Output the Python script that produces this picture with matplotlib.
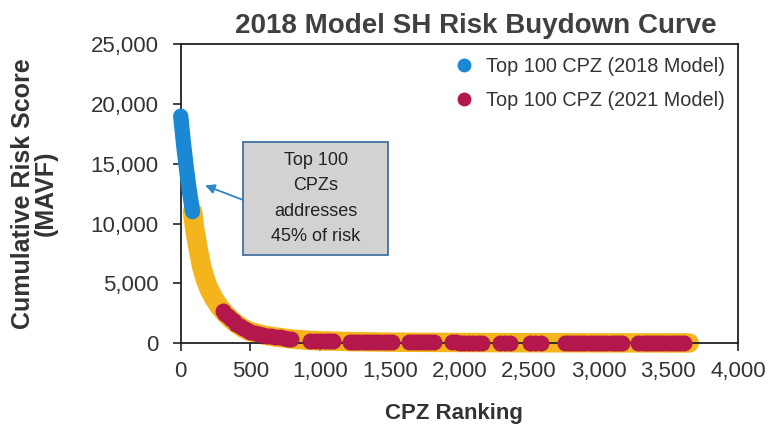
import matplotlib.pyplot as plt
from matplotlib.lines import Line2D
from matplotlib.patches import Rectangle

plt.rcParams['font.family'] = ['Liberation Sans', 'DejaVu Sans']

# risk buydown curve, all CPZs ranked by 2018 model
rank_all = [85, 100, 125, 150, 175, 200, 240, 280, 320, 360, 400, 450, 500, 600,
            700, 800, 900, 1000, 1250, 1500, 2000, 2500, 3000, 3650]
score_all = [11000, 9600, 7900, 6400, 5400, 4600, 3700, 3000, 2450, 2000, 1600, 1220,
             950, 650, 470, 330, 240, 180, 110, 70, 40, 20, 10, 0]

# top 100 CPZ (2018 model)
rank_2018 = [0, 20, 40, 60, 85]
score_2018 = [19000, 16700, 14700, 12900, 11000]

# top 100 CPZ (2021 model), shown at their 2018 ranking
rank_2021 = [300, 320, 340, 360, 380, 400, 425, 450, 475, 500, 530, 560, 590, 620, 650,
             680, 710, 740, 770, 790,
             930, 965, 1000, 1035, 1065, 1095,
             1215, 1245, 1275, 1305, 1335, 1365, 1395, 1425, 1460, 1490, 1520,
             1640, 1670, 1700, 1730, 1760, 1790, 1820,
             1945, 1975, 2005, 2035, 2070, 2100, 2135, 2165,
             2290, 2325, 2360,
             2505, 2545, 2585,
             2755, 2785, 2815, 2845, 2875, 2905, 2935, 2965, 2995, 3025, 3055, 3085,
             3115, 3145, 3170,
             3285, 3315, 3345, 3375, 3405, 3435, 3465, 3495, 3525, 3555, 3585, 3615]
score_2021 = [2700, 2450, 2220, 2000, 1800, 1600, 1400, 1220, 1080, 950, 850, 760, 680,
              620, 560, 510, 460, 420, 375, 350,
              200, 190, 180, 165, 150, 140,
              110, 105, 100, 95, 90, 85, 80, 78, 75, 72, 70,
              62, 60, 58, 56, 54, 52, 50,
              44, 42, 40, 38, 36, 35, 34, 33,
              28, 27, 26,
              20, 19, 18,
              14, 13, 13, 12, 12, 11, 11, 10, 10, 9, 9, 8, 8, 8, 7,
              5, 5, 4, 4, 3, 3, 3, 2, 2, 1, 1, 1]

x_ticks = [0, 500, 1000, 1500, 2000, 2500, 3000, 3500, 4000]
y_ticks = [0, 5000, 10000, 15000, 20000, 25000]

blue = '#1a88d4'
red = '#b3174b'
yellow = '#f3b51b'
text_col = '#333333'

fig = plt.figure(figsize=(7.69, 4.29), dpi=100)
ax = fig.add_axes([0.235, 0.2005, 0.7247, 0.6958])

ax.plot(rank_all, score_all, color=yellow, lw=14, solid_capstyle='round',
        solid_joinstyle='round', clip_on=False, zorder=2)
ax.plot(rank_2018, score_2018, color=blue, lw=11, solid_capstyle='round',
        solid_joinstyle='round', clip_on=False, zorder=3)
ax.plot(rank_2021, score_2021, linestyle='none', marker='o', ms=11.5, color=red,
        mec='none', clip_on=False, zorder=4)

ax.set_xlim(0, 4000)
ax.set_ylim(0, 25000)
ax.set_xticks(x_ticks)
ax.set_yticks(y_ticks)
ax.set_xticklabels([f'{v:,}' for v in x_ticks])
ax.set_yticklabels([f'{v:,}' for v in y_ticks])
ax.tick_params(axis='both', direction='out', length=6, width=1.2, colors='#222222',
               labelsize=16, labelcolor=text_col)
ax.tick_params(axis='y', pad=10)
ax.tick_params(axis='x', pad=7)
for s in ax.spines.values():
    s.set_color('#222222')
    s.set_linewidth(1.3)

ax.set_title('2018 Model SH Risk Buydown Curve', fontsize=20, fontweight='bold',
             color='#404040', pad=8, x=0.53)
ax.set_xlabel('CPZ Ranking', fontsize=16, fontweight='bold', color=text_col)
ax.set_ylabel('Cumulative Risk Score\n(MAVF)', fontsize=18, fontweight='bold',
              color=text_col, linespacing=0.95)
ax.xaxis.set_label_coords(0.49, -0.20)
ax.yaxis.set_label_coords(-0.22, 0.5)

handles = [Line2D([], [], linestyle='none', marker='o', ms=10, color=blue, mec='none'),
           Line2D([], [], linestyle='none', marker='o', ms=10, color=red, mec='none')]
ax.legend(handles, ['Top 100 CPZ (2018 Model)', 'Top 100 CPZ (2021 Model)'],
          loc='upper right', frameon=False, fontsize=14.3, handlelength=1.0,
          handletextpad=0.6, labelspacing=0.75, borderaxespad=0.25,
          labelcolor=text_col)

# callout box
ax.add_patch(Rectangle((0.112, 0.295), 0.26, 0.378, transform=ax.transAxes,
                       facecolor='#d2d2d2', edgecolor='#41719c', lw=1.3, zorder=5))
ax.text(0.242, 0.484, 'Top 100\nCPZs\naddresses\n45% of risk', transform=ax.transAxes,
        ha='center', va='center', fontsize=13, linespacing=1.65, color='#222222',
        zorder=6)
ax.annotate('', xy=(175, 13200), xycoords='data', xytext=(0.112, 0.479),
            textcoords='axes fraction',
            arrowprops=dict(arrowstyle='-|>', color='#2f86c9', lw=1.3,
                            mutation_scale=14, shrinkA=0, shrinkB=0), zorder=6)

fig.savefig('out.png', dpi=100)
